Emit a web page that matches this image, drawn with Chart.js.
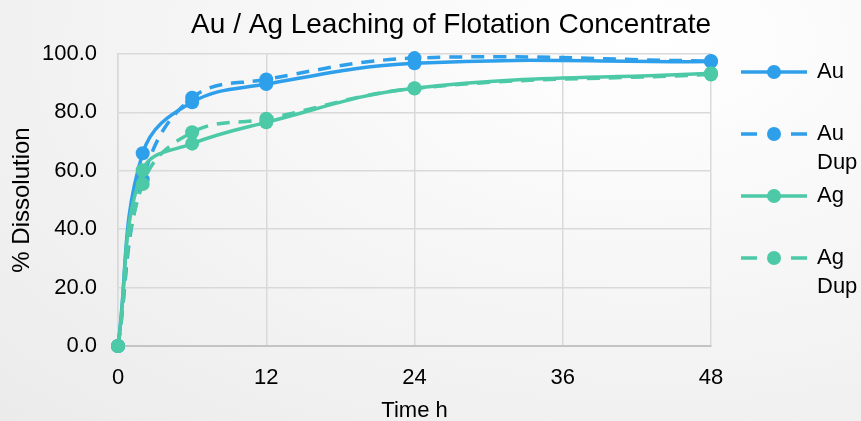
<!DOCTYPE html>
<html>
<head>
<meta charset="utf-8">
<script src="https://cdn.jsdelivr.net/npm/chart.js@4/dist/chart.umd.min.js"></script>
<style>
  html, body { margin: 0; padding: 0; }
  body {
    width: 861px; height: 421px; overflow: hidden;
    background: radial-gradient(ellipse at 75% 10%, #ffffff 0%, #f6f6f6 45%, #ebebeb 100%);
  }
  #wrap { position: relative; width: 861px; height: 421px; }
</style>
</head>
<body>
<div id="wrap"><canvas id="leachChart"></canvas></div>
<script>
/* ================= DATA ================= */

const hours = [ 0, 2, 6, 12, 24, 48 ];

const au    = [ 0, 66.0, 83.5, 89.7, 96.8, 97.4 ];
const auDup = [ 0, 57.0, 85.0, 91.3, 98.6, 97.6 ];
const ag    = [ 0, 60.2, 69.3, 76.6, 88.3, 93.4 ];
const agDup = [ 0, 55.5, 73.2, 77.8, 88.2, 93.0 ];

const seriesNames = [ 'Au', 'Au Dup', 'Ag', 'Ag Dup' ];
const xTicks = [ 0, 12, 24, 36, 48 ];
const yTicks = [ 0, 20, 40, 60, 80, 100 ];

/* ================= CHART ================= */

const BLUE = '#2e9fea';
const GREEN = '#4cc9a6';
const FONT = "'Liberation Sans', Arial, sans-serif";

function toPoints( values ) {
    return hours.map( ( h, i ) => ( { x: h, y: values[ i ] } ) );
}

function makeSeries( label, values, color, dashed, order ) {
    return {
        label: label,
        data: toPoints( values ),
        borderColor: color,
        backgroundColor: color,
        borderWidth: 3.5,
        borderDash: dashed ? [ 13, 9 ] : [],
        pointRadius: 7,
        pointHoverRadius: 7,
        pointBorderWidth: 0,
        tension: 0.4,
        showLine: true,
        clip: false,
        order: order
    };
}

// legend on the right, Excel style, long names wrapped on two lines
const sideLegend = {
    id: 'sideLegend',
    afterDraw( chart ) {
        const ctx = chart.ctx;
        ctx.save();
        ctx.font = '22px ' + FONT;
        ctx.textBaseline = 'middle';
        ctx.textAlign = 'left';

        chart.data.datasets.forEach( ( ds, i ) => {
            let y = 72 + i * 62;
            let dashed = ds.borderDash.length > 0;

            ctx.strokeStyle = ds.borderColor;
            ctx.lineWidth = 3.5;
            ctx.beginPath();
            if ( dashed ) {
                ctx.moveTo( 741, y ); ctx.lineTo( 757, y );
                ctx.moveTo( 791, y ); ctx.lineTo( 807, y );
            } else {
                ctx.moveTo( 741, y ); ctx.lineTo( 807, y );
            }
            ctx.stroke();

            ctx.fillStyle = ds.backgroundColor;
            ctx.beginPath();
            ctx.arc( 774, y, 7, 0, Math.PI * 2 );
            ctx.fill();

            ctx.fillStyle = '#000';
            ds.label.split( ' ' ).forEach( ( word, k ) => {
                ctx.fillText( word, 817, y + k * 29 );
            } );
        } );
        ctx.restore();
    }
};

const ctx = document.getElementById( 'leachChart' );

let leachChart = new Chart( ctx, {
    type: 'scatter',
    data: {
        datasets: [
            makeSeries( seriesNames[ 0 ], au, BLUE, false, 4 ),
            makeSeries( seriesNames[ 1 ], auDup, BLUE, true, 3 ),
            makeSeries( seriesNames[ 2 ], ag, GREEN, false, 2 ),
            makeSeries( seriesNames[ 3 ], agDup, GREEN, true, 1 )
        ]
    },
    plugins: [ sideLegend ],
    options: {
        responsive: true,
        maintainAspectRatio: false,
        animation: false,
        layout: {
            padding: { left: 0, right: 150, top: 0, bottom: 0 }
        },
        plugins: {
            legend: { display: false },
            tooltip: { enabled: false },
            title: {
                display: true,
                text: 'Au / Ag Leaching of Flotation Concentrate',
                align: 'end',
                color: '#000',
                font: { family: FONT, size: 28, weight: 'normal' },
                padding: { top: 8, bottom: 12.4 }
            }
        },
        scales: {
            x: {
                type: 'linear',
                min: xTicks[ 0 ],
                max: xTicks[ xTicks.length - 1 ],
                afterBuildTicks: scale => {
                    scale.ticks = xTicks.map( v => ( { value: v } ) );
                },
                afterFit: scale => { scale.height = 75; },
                ticks: {
                    color: '#000',
                    padding: 19,
                    font: { family: FONT, size: 22 }
                },
                grid: { color: '#d9d9d9', lineWidth: 1.5, drawTicks: false },
                border: { color: '#c4c4c4', width: 2 },
                title: {
                    display: true,
                    text: 'Time h',
                    color: '#000',
                    font: { family: FONT, size: 22 },
                    padding: { top: 0, bottom: -3 }
                }
            },
            y: {
                min: yTicks[ 0 ],
                max: yTicks[ yTicks.length - 1 ],
                afterBuildTicks: scale => {
                    scale.ticks = yTicks.map( v => ( { value: v } ) );
                },
                afterFit: scale => { scale.width = 118; },
                ticks: {
                    color: '#000',
                    padding: 21,
                    font: { family: FONT, size: 22 },
                    callback: v => v.toFixed( 1 )
                },
                grid: { color: '#d9d9d9', lineWidth: 1.5, drawTicks: false },
                border: { color: '#d9d9d9', width: 1.5 },
                title: {
                    display: true,
                    text: '% Dissolution',
                    color: '#000',
                    font: { family: FONT, size: 24 },
                    padding: { top: 8, bottom: 0 }
                }
            }
        }
    }
} );
</script>
</body>
</html>
